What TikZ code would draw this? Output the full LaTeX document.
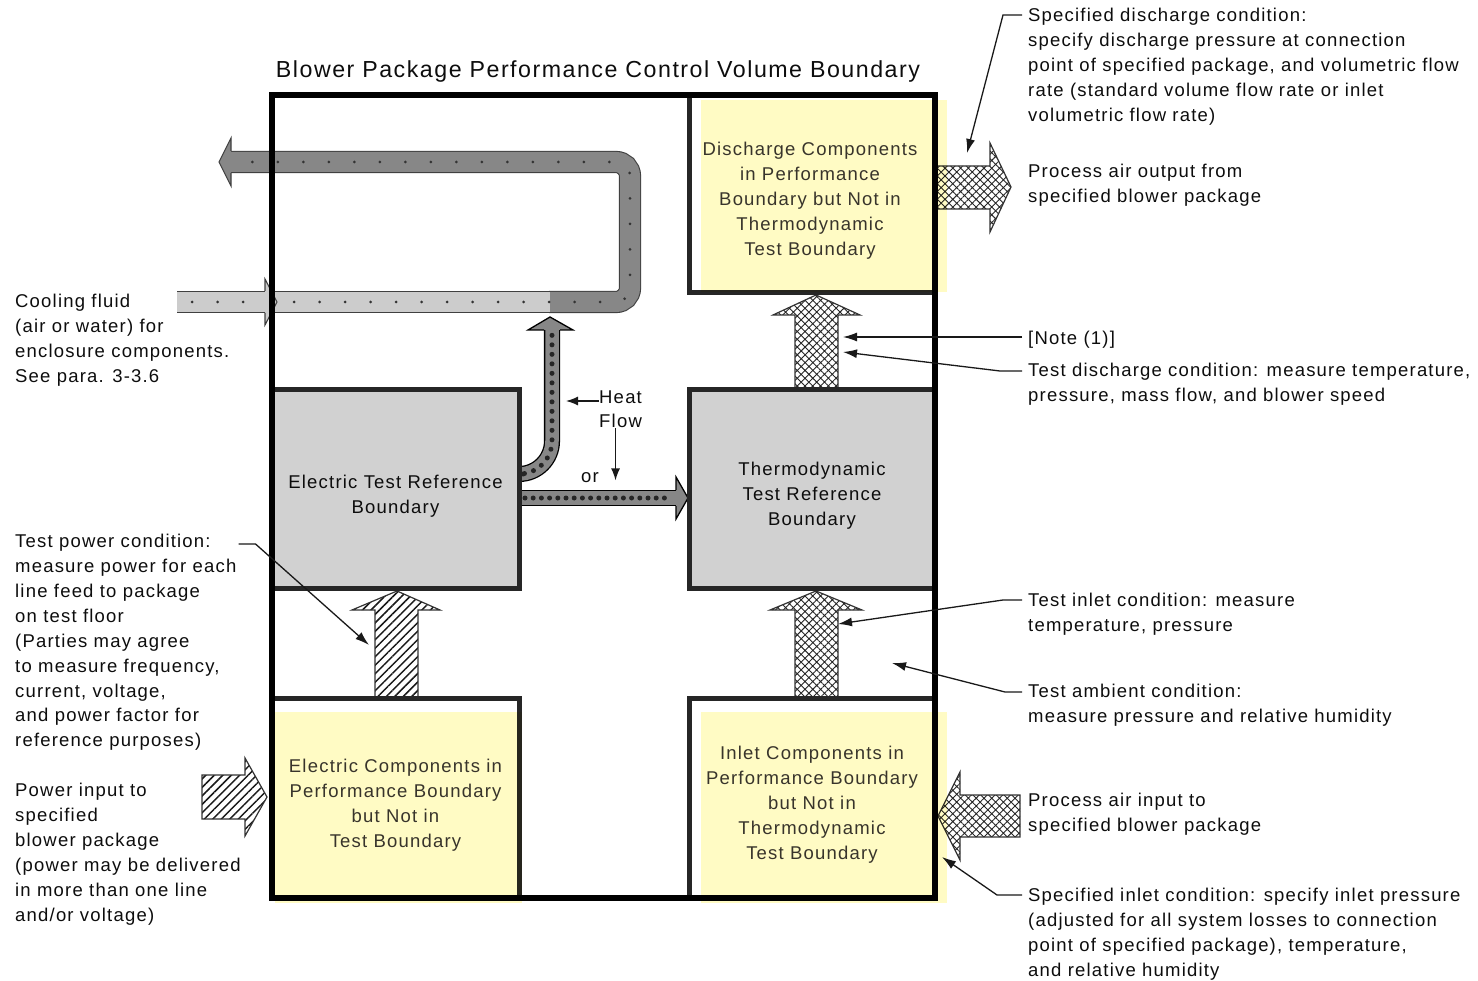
\documentclass[tikz,border=0pt]{standalone}
\usepackage{fontspec}
\setmainfont{Liberation Sans}[LetterSpace=6.5]
\usetikzlibrary{positioning,arrows.meta,patterns.meta}
\definecolor{hilite}{RGB}{255,251,196}

\begin{document}
\begin{tikzpicture}[x=1pt,y=-1pt,
    note/.style={font=\fontsize{18.5}{24.9}\selectfont, text=black!95, align=left,
        inner sep=0pt, anchor=north west, execute at begin node=\rule{0pt}{15pt}},
    lbl/.style={font=\fontsize{18.5}{24.9}\selectfont, text=black!95, inner sep=0pt},
    boxtext/.style={lbl, align=center, yshift=-7pt},
    refbox/.style={draw=black!85, line width=5pt, fill=black!18},
    compbox/.style={refbox, fill=white},
    pipe/.style={draw=black!75, line width=1.1pt, double distance=20pt},
    heatpipe/.style={draw=black, line width=1.3pt, double=black!47, double distance=13.5pt},
    crossarrow/.style={draw=black!80, line width=1.2pt, preaction={fill=white},
        pattern={Hatch[angle=45,distance=5.5pt,line width=0.9pt]}, pattern color=black!85},
    hatcharrow/.style={draw=black!80, line width=1.2pt, preaction={fill=white},
        pattern={Lines[angle=45,distance=6pt,line width=1.5pt]}, pattern color=black!90},
    leader/.style={draw=black!90, line width=1.3pt, -{Latex[length=14pt,width=9pt]}},
    flowarr/.style={draw=black!90, line width=1.3pt, -{Latex[length=12pt,width=9pt]}}]
 \useasboundingbox (0,0) rectangle (1478,981);

 % cooling fluid loop
 \draw[pipe, double=black!47, rounded corners=14pt] (549,302) -- (630,302) -- (630,162) -- (231,162);
 \draw[pipe, double=black!20] (177,302) -- (550,302);
 \draw[black!80, line width=3pt, line cap=round, dash pattern=on 0pt off 25.5pt,
       rounded corners=14pt] (192,302) -- (630,302) -- (630,162) -- (235,162);
 \filldraw[fill=black!20, draw=black!75, line width=1.1pt] (265,291) -- (265,279) -- (277,302) -- (265,325) -- (265,313);
 \filldraw[fill=black!47, draw=black!75, line width=1.1pt] (231,151) -- (231,138) -- (219,162) -- (231,186) -- (231,173);

 % heat flow
 \draw[heatpipe, rounded corners=33pt] (517,474) -- (552,474) -- (552,330);
 \draw[heatpipe] (517,498) -- (676,498);
 \filldraw[fill=black!47, draw=black, line width=1.3pt] (544,330) -- (528,330) -- (550,317) -- (573,330) -- (560,330);
 \filldraw[fill=black!47, draw=black, line width=1.3pt] (676,490) -- (676,477) -- (688,498) -- (676,519) -- (676,506);
 \draw[black!85, line width=5pt, line cap=round, dash pattern=on 0pt off 9.5pt,
       rounded corners=33pt] (523,474) -- (552,474) -- (552,333);
 \draw[black!85, line width=5pt, line cap=round, dash pattern=on 0pt off 8.2pt] (525,498) -- (670,498);

 % flow arrows
 \draw[hatcharrow] (375,698) -- (375,610) -- (352,610) -- (397,591) -- (440,610) -- (418,610) -- (418,698) -- cycle;
 \draw[hatcharrow] (202,775) -- (245,775) -- (245,758) -- (267,797) -- (245,836) -- (245,819) -- (202,819) -- cycle;
 \draw[crossarrow] (795,698) -- (795,610) -- (770,610) -- (816,591) -- (862,610) -- (838,610) -- (838,698) -- cycle;
 \draw[crossarrow] (795,390) -- (795,315) -- (773,315) -- (816,295) -- (860,315) -- (838,315) -- (838,390) -- cycle;
 \draw[crossarrow] (935,166) -- (990,166) -- (990,143) -- (1011,187) -- (990,232) -- (990,209) -- (935,209) -- cycle;
 \draw[crossarrow] (1020,795) -- (960,795) -- (960,772) -- (938,816) -- (960,860) -- (960,837) -- (1020,837) -- cycle;

 % boundaries
 \node[refbox, minimum width=247, minimum height=198] (etrb) at (395.5,489) {};
 \node[refbox, minimum width=246, minimum height=198] (ttrb) at (812,489) {};
 \node[compbox, minimum width=246, minimum height=198] (disc) at (812,194) {};
 \node[compbox, minimum width=247, minimum height=200] (ecomp) at (395.5,798) {};
 \node[compbox, minimum width=246, minimum height=200] (icomp) at (812,798) {};
 \node[draw=black, line width=6pt, minimum width=663, minimum height=803] (cv) at (603.5,496.5) {};
 \node[lbl, font=\fontsize{23.2}{26}\selectfont, anchor=base] (title) at (598,78) {Blower Package Performance Control Volume Boundary};

 \begin{scope}[blend mode=multiply]
  \fill[hilite] (701,100) rectangle (947,292);
  \fill[hilite] (275,712) rectangle (522,903);
  \fill[hilite] (701,712) rectangle (947,903);
 \end{scope}

 \node[boxtext] (etrbtxt) at (etrb.center) {Electric Test Reference\\Boundary};
 \node[boxtext] (ttrbtxt) at (ttrb.center) {Thermodynamic\\Test Reference\\Boundary};
 \node[boxtext, text=black!80!olive] (disctxt) at ([xshift=-2pt]disc.center) {Discharge Components\\in Performance\\Boundary but Not in\\Thermodynamic\\Test Boundary};
 \node[boxtext, text=black!80!olive] (ecomptxt) at (ecomp.center) {Electric Components in\\Performance Boundary\\but Not in\\Test Boundary};
 \node[boxtext, text=black!80!olive] (icomptxt) at (icomp.center) {Inlet Components in\\Performance Boundary\\but Not in\\Thermodynamic\\Test Boundary};

 % heat flow label
 \node[lbl, anchor=base west] (heatlbl) at (599,403) {Heat};
 \node[lbl, anchor=base west] (flowlbl) at (599,428) {Flow};
 \node[lbl, anchor=base] (orlbl) at (590,482) {or};
 \coordinate (vpipe) at (566,401);
 \draw[flowarr] (heatlbl.west |- vpipe) -- (vpipe);
 \draw[flowarr] ([xshift=-5pt]flowlbl.south) -- ++(0,52);

 % notes
 \node[note] (cool) at (15,294) {Cooling fluid\\(air or water) for\\enclosure components.\\See para. 3-3.6};
 \node[note] (tpc) at (15,534) {Test power condition:\\measure power for each\\line feed to package\\on test floor\\(Parties may agree\\to measure frequency,\\current, voltage,\\and power factor for\\reference purposes)};
 \node[note] (pin) at (15,783) {Power input to\\specified\\blower package\\(power may be delivered\\in more than one line\\and/or voltage)};
 \node[note] (sdc) at (1028,8) {Specified discharge condition:\\specify discharge pressure at connection\\point of specified package, and volumetric flow\\rate (standard volume flow rate or inlet\\volumetric flow rate)};
 \node[note] (pao) at (1028,164) {Process air output from\\specified blower package};
 \node[note] (note1) at (1028,329) {[Note (1)]};
 \node[note] (tdc) at (1028,363) {Test discharge condition: measure temperature,\\pressure, mass flow, and blower speed};
 \node[note] (tic) at (1028,593) {Test inlet condition: measure\\temperature, pressure};
 \node[note] (tac) at (1028,684) {Test ambient condition:\\measure pressure and relative humidity};
 \node[note] (pai) at (1028,793) {Process air input to\\specified blower package};
 \node[note] (sic) at (1028,888) {Specified inlet condition: specify inlet pressure\\(adjusted for all system losses to connection\\point of specified package), temperature,\\and relative humidity};

 % leaders
 \coordinate (dischtip) at (967,153);
 \coordinate (note1tip) at (843,337);
 \coordinate (tdctip) at (843,352);
 \coordinate (tictip) at (838,624);
 \coordinate (ambtip) at (892,663);
 \coordinate (sictip) at (942,857);
 \coordinate (tpctip) at (369,645);
 \draw[leader] ([xshift=-6pt,yshift=-7pt]sdc.north west) -- ++(-19,0) -- (dischtip);
 \draw[leader] ([xshift=-6pt,yshift=-8pt]note1.north west) -- (note1tip);
 \draw[leader] ([xshift=-6pt,yshift=-8pt]tdc.north west) -- ++(-22,0) -- (tdctip);
 \draw[leader] ([xshift=-6pt,yshift=-7pt]tic.north west) -- ++(-19,0) -- (tictip);
 \draw[leader] ([xshift=-6pt,yshift=-8pt]tac.north west) -- ++(-17,0) -- (ambtip);
 \draw[leader] ([xshift=-6pt,yshift=-7pt]sic.north west) -- ++(-25,0) -- (sictip);
 \draw[leader] ([xshift=2pt,yshift=-10pt]tpc.north east) -- ++(17,0) -- (tpctip);
\end{tikzpicture}
\end{document}
